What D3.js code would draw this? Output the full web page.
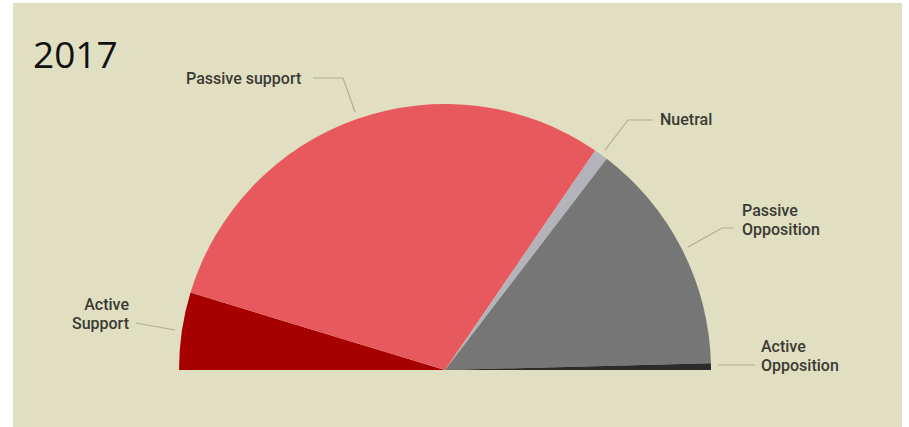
<!DOCTYPE html>
<html>
<head>
<meta charset="utf-8">
<script src="https://cdn.jsdelivr.net/npm/d3@7"></script>
<style>
  html, body { margin: 0; padding: 0; background: #ffffff; }
  svg { display: block; }
</style>
</head>
<body>
<div id="chart"></div>
<script>
// data (share of half circle, %)
const categories = ["Active Support", "Passive support", "Nuetral", "Passive Opposition", "Active Opposition"];
const values = [9.4, 59.7, 1.7, 28.4, 0.8];
const colors = ["#a60000", "#e8595d", "#b3b3bb", "#767676", "#2b2b2b"];
const title = "2017";

const width = 909, height = 427;
const cx = 445, cy = 370, radius = 266;

const svg = d3.select("#chart").append("svg")
  .attr("width", width)
  .attr("height", height);

// beige panel
svg.append("rect")
  .attr("x", 13).attr("y", 3)
  .attr("width", 889).attr("height", 424)
  .attr("fill", "#e0dfc1");

const pie = d3.pie()
  .sort(null)
  .startAngle(-Math.PI / 2)
  .endAngle(Math.PI / 2)
  .value(d => d);

const arc = d3.arc().innerRadius(0).outerRadius(radius);

const g = svg.append("g").attr("transform", `translate(${cx},${cy})`);

g.selectAll("path")
  .data(pie(values))
  .enter().append("path")
  .attr("d", arc)
  .attr("fill", (d, i) => colors[i]);

svg.append("text")
  .attr("x", 33).attr("y", 68)
  .attr("font-family", "'Open Sans', sans-serif")
  .attr("font-size", 37)
  .attr("fill", "#111")
  .text(title);

// labels + leader lines
const labels = [
  { lines: ["Passive support"], x: 186, y: 84, anchor: "start", leader: [[313, 78], [343, 78], [355, 112]] },
  { lines: ["Nuetral"], x: 660, y: 125, anchor: "start", leader: [[653, 120], [628, 120], [605, 150]] },
  { lines: ["Passive", "Opposition"], x: 742, y: 216, anchor: "start", leader: [[733, 228], [722, 228], [688, 247]] },
  { lines: ["Active", "Opposition"], x: 761, y: 352, anchor: "start", leader: [[755, 365], [718, 365]] },
  { lines: ["Active", "Support"], x: 129, y: 310, anchor: "end", leader: [[136, 323], [175, 330]] }
];

svg.selectAll("path.leader")
  .data(labels)
  .enter().append("path")
  .attr("class", "leader")
  .attr("d", d => d3.line()(d.leader))
  .attr("fill", "none")
  .attr("stroke", "#aeae9a")
  .attr("stroke-width", 1.2);

labels.forEach(l => {
  const t = svg.append("text")
    .attr("x", l.x).attr("y", l.y)
    .attr("text-anchor", l.anchor)
    .attr("font-family", "Roboto, sans-serif")
    .attr("font-size", 16)
    .attr("font-weight", 500)
    .attr("fill", "#3a3a34");
  l.lines.forEach((s, i) => {
    t.append("tspan").attr("x", l.x).attr("dy", i === 0 ? 0 : 18.5).text(s);
  });
});
</script>
</body>
</html>
